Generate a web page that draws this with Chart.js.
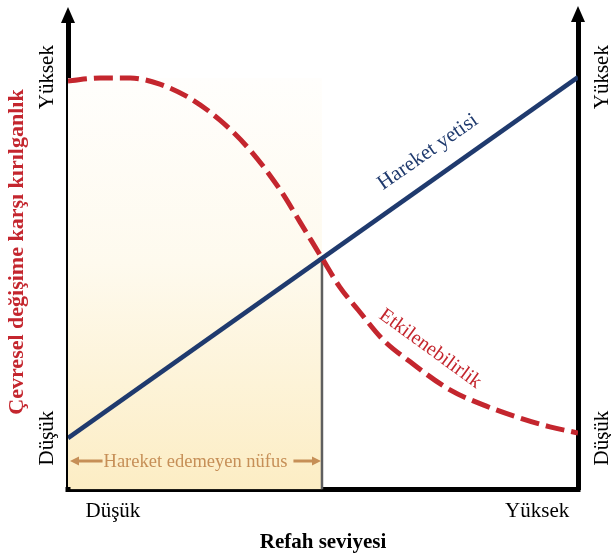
<!DOCTYPE html>
<html lang="tr">
<head>
<meta charset="utf-8">
<title>Refah seviyesi ve kırılganlık</title>
<script src="https://cdn.jsdelivr.net/npm/chart.js@4.4.1/dist/chart.umd.min.js"></script>
<style>
  html, body { margin: 0; padding: 0; background: #fff; }
  #kutu { width: 611px; height: 555px; position: relative; }
</style>
</head>
<body>
<div id="kutu"><canvas id="grafik"></canvas></div>
<script>
// =============================================
//      REFAH SEVİYESİ - KIRILGANLIK GRAFİĞİ
// =============================================
// Her iki eksen de 0-100 arası göreli ölçek

// Hareket yetisi (düz çizgi)
const hareketX = [0, 100];
const hareketYetisi = [11, 88.2];

// Etkilenebilirlik (kesikli eğri)
const etkilenX = [0, 6.3, 12.2, 18, 23.9, 29.8, 35.7, 41.6, 45.5, 49.8, 53.3, 56.9, 61.8, 67.1, 74.9, 81.4, 88, 94.5, 100];
const etkilenebilirlik = [87.4, 88, 88, 86.7, 83.7, 79, 72.6, 64.1, 57.2, 49.5, 43.3, 38.4, 32, 27.3, 21.3, 18.1, 15.5, 13.4, 12.1];

// Kesişim noktası ve hareket edemeyen nüfus bölgesi
const kesisimX = [49.8, 49.8];
const kesisimY = [0, 49.4];
const golgeX = [0, 49.8];
const golgeY = [88, 88];

// Eksen etiketleri
const dikeyDegerler = [11, 88.2];
const dikeyEtiketler = ['Düşük', 'Yüksek'];
const yatayDegerler = [8.8, 92];
const yatayEtiketler = ['Düşük', 'Yüksek'];

const MAVI = '#1f3a6e';
const KIRMIZI = '#c4262e';
const TEN = '#c68f57';
const YAZI = '"Liberation Serif", "Times New Roman", serif';

function noktalar(xler, yler) {
    return xler.map((x, i) => ({ x: x, y: yler[i] }));
}

/////////////////**ÜÇGEN OK BAŞI ÇİZER*/////////////////
function okBasi(ctx, x, y, aci, boy, gen, renk) {
    ctx.save();
    ctx.translate(x, y);
    ctx.rotate(aci);
    ctx.fillStyle = renk;
    ctx.beginPath();
    ctx.moveTo(0, 0);
    ctx.lineTo(-boy, -gen / 2);
    ctx.lineTo(-boy, gen / 2);
    ctx.closePath();
    ctx.fill();
    ctx.restore();
}

/////////////////**DÖNDÜRÜLMÜŞ YAZI*/////////////////
function yazi(ctx, metin, x, y, aci, font, renk, hiza) {
    ctx.save();
    ctx.translate(x, y);
    ctx.rotate(aci * Math.PI / 180);
    ctx.font = font;
    ctx.fillStyle = renk;
    ctx.textAlign = hiza || 'center';
    ctx.textBaseline = 'alphabetic';
    ctx.fillText(metin, 0, 0);
    ctx.restore();
}

/////////////////**EKSEN OKLARI VE KÖŞELER*/////////////////
const eksenOklari = {
    id: 'eksenOklari',
    afterDraw(chart) {
        const { ctx, chartArea } = chart;
        const sol = chart.scales.y.right;
        const sag = chart.scales.y2.left;
        okBasi(ctx, sol, chartArea.top - 15, -Math.PI / 2, 16, 14, '#000');
        okBasi(ctx, sag, chartArea.top - 16, -Math.PI / 2, 16, 14, '#000');
        // alt köşeleri kare yap
        ctx.fillStyle = '#000';
        ctx.fillRect(sol - 2.5, chartArea.bottom - 2.5, 5, 5);
        ctx.fillRect(sag - 2.5, chartArea.bottom - 2.5, 5, 5);
    }
};

/////////////////**ETİKETLER VE AÇIKLAMALAR*/////////////////
const yazilar = {
    id: 'yazilar',
    afterDraw(chart) {
        const { ctx, chartArea } = chart;
        const xs = chart.scales.x;
        const ys = chart.scales.y;
        const normal = '21px ' + YAZI;

        // dikey eksen etiketleri (iki yanda)
        dikeyDegerler.forEach((v, i) => {
            const py = ys.getPixelForValue(v);
            yazi(ctx, dikeyEtiketler[i], chartArea.left - 15, py, -90, normal, '#000');
            yazi(ctx, dikeyEtiketler[i], chartArea.right + 30, py, -90, normal, '#000');
        });

        // yatay eksen etiketleri
        yatayDegerler.forEach((v, i) => {
            yazi(ctx, yatayEtiketler[i], xs.getPixelForValue(v), chartArea.bottom + 27, 0, normal, '#000');
        });

        // eksen başlıkları
        yazi(ctx, 'Refah seviyesi', (chartArea.left + chartArea.right) / 2, chartArea.bottom + 58, 0,
            'bold 21px ' + YAZI, '#000');
        yazi(ctx, 'Çevresel değişime karşı kırılganlık', 23, 252, -90, 'bold 22px ' + YAZI, KIRMIZI);

        // eğri adları
        yazi(ctx, 'Hareket yetisi', xs.getPixelForValue(71.2), ys.getPixelForValue(71.2), -35,
            '21px ' + YAZI, MAVI);
        yazi(ctx, 'Etkilenebilirlik', xs.getPixelForValue(70.4), ys.getPixelForValue(29.2), 36,
            '20px ' + YAZI, KIRMIZI);

        // hareket edemeyen nüfus aralığı
        const x0 = xs.getPixelForValue(golgeX[0]) + 2;
        const x1 = xs.getPixelForValue(golgeX[1]) - 1;
        const py = ys.getPixelForValue(6.1);
        const metin = 'Hareket edemeyen nüfus';
        ctx.font = '18.5px ' + YAZI;
        const gen = ctx.measureText(metin).width;
        const orta = (x0 + x1) / 2;
        const yBas = orta - gen / 2;
        const yBit = orta + gen / 2;
        ctx.strokeStyle = TEN;
        ctx.lineWidth = 3;
        ctx.beginPath();
        ctx.moveTo(x0 + 6, py);
        ctx.lineTo(yBas - 1, py);
        ctx.moveTo(yBit + 6, py);
        ctx.lineTo(x1 - 6, py);
        ctx.stroke();
        okBasi(ctx, x0, py, Math.PI, 9, 9, TEN);
        okBasi(ctx, x1, py, 0, 9, 9, TEN);
        yazi(ctx, metin, orta, py + 6, 0, '18.5px ' + YAZI, TEN);
    }
};

/////////////////**ÖLÇEK AYARI (TİK YOK, KALIN ÇİZGİ)*/////////////////
function eksen(konum) {
    return {
        type: 'linear',
        position: konum,
        min: 0,
        max: 100,
        ticks: { display: false },
        grid: { display: false, drawTicks: false },
        border: { display: true, color: '#000', width: 5 }
    };
}

function grafigiCiz() {
    const ctx = document.getElementById('grafik').getContext('2d');
    new Chart(ctx, {
        type: 'line',
        data: {
            datasets: [
                {
                    label: 'Etkilenebilirlik',
                    data: noktalar(etkilenX, etkilenebilirlik),
                    borderColor: KIRMIZI,
                    borderWidth: 5,
                    borderDash: [19, 7],
                    cubicInterpolationMode: 'monotone',
                    pointRadius: 0,
                    fill: false
                },
                {
                    label: 'Hareket yetisi',
                    data: noktalar(hareketX, hareketYetisi),
                    borderColor: MAVI,
                    borderWidth: 4.5,
                    pointRadius: 0,
                    fill: false
                },
                {
                    label: 'Sınır',
                    data: noktalar(kesisimX, kesisimY),
                    borderColor: '#5f5f5f',
                    borderWidth: 2.5,
                    pointRadius: 0,
                    fill: false
                },
                {
                    label: 'Hareket edemeyen nüfus',
                    data: noktalar(golgeX, golgeY),
                    borderWidth: 0,
                    pointRadius: 0,
                    fill: 'origin',
                    backgroundColor: function(context) {
                        const { ctx, chartArea, scales } = context.chart;
                        if (!chartArea) return 'rgba(0,0,0,0)';
                        const g = ctx.createLinearGradient(0, scales.y.getPixelForValue(golgeY[0]), 0, chartArea.bottom);
                        g.addColorStop(0, '#fffefc');
                        g.addColorStop(0.45, '#fefaee');
                        g.addColorStop(1, '#fcedc4');
                        return g;
                    }
                }
            ]
        },
        options: {
            responsive: true,
            maintainAspectRatio: false,
            animation: false,
            events: [],
            layout: { padding: { left: 68, right: 33, top: 22, bottom: 65.5 } },
            plugins: {
                legend: { display: false },
                tooltip: { enabled: false },
                title: { display: false }
            },
            scales: {
                x: eksen('bottom'),
                y: eksen('left'),
                y2: eksen('right')
            }
        },
        plugins: [eksenOklari, yazilar]
    });
}

grafigiCiz();
</script>
</body>
</html>
